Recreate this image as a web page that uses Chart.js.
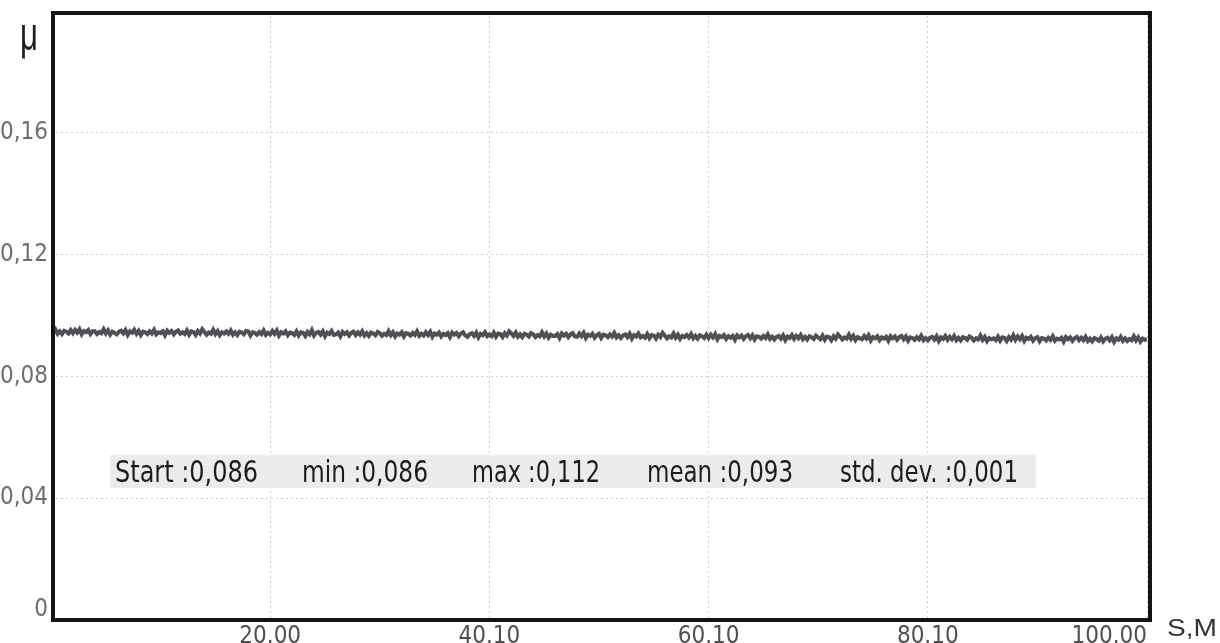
<!DOCTYPE html>
<html>
<head>
<meta charset="utf-8">
<script src="https://cdn.jsdelivr.net/npm/chart.js@4.4.1/dist/chart.umd.min.js"></script>
<style>
  body { margin: 0; background: #fff; }
  #wrap { width: 1220px; height: 643px; }
</style>
</head>
<body>
<div id="wrap"><canvas id="mainChart" width="1220" height="643"></canvas></div>
<script>
// friction coefficient, logged every 0.2 m of sliding distance
const sampleStep = 0.2;
const mu = [
  0.0951, 0.0943, 0.0954, 0.0940, 0.0948, 0.0939, 0.0950, 0.0947, 0.0941, 0.0952,
  0.0942, 0.0953, 0.0944, 0.0955, 0.0938, 0.0949, 0.0945, 0.0952, 0.0939, 0.0948,
  0.0948, 0.0939, 0.0946, 0.0942, 0.0955, 0.0941, 0.0951, 0.0937, 0.0947, 0.0943,
  0.0938, 0.0947, 0.0950, 0.0941, 0.0952, 0.0936, 0.0948, 0.0943, 0.0953, 0.0940,
  0.0950, 0.0936, 0.0947, 0.0945, 0.0939, 0.0948, 0.0941, 0.0953, 0.0938, 0.0945,
  0.0942, 0.0948, 0.0935, 0.0950, 0.0943, 0.0949, 0.0938, 0.0947, 0.0951, 0.0940,
  0.0945, 0.0939, 0.0951, 0.0937, 0.0948, 0.0946, 0.0936, 0.0949, 0.0941, 0.0955,
  0.0946, 0.0937, 0.0944, 0.0940, 0.0953, 0.0939, 0.0949, 0.0935, 0.0945, 0.0941,
  0.0948, 0.0940, 0.0951, 0.0937, 0.0945, 0.0936, 0.0947, 0.0944, 0.0938, 0.0949,
  0.0948, 0.0934, 0.0945, 0.0943, 0.0937, 0.0946, 0.0939, 0.0951, 0.0936, 0.0943,
  0.0938, 0.0949, 0.0940, 0.0951, 0.0934, 0.0945, 0.0941, 0.0948, 0.0935, 0.0944,
  0.0942, 0.0936, 0.0948, 0.0934, 0.0945, 0.0943, 0.0933, 0.0946, 0.0938, 0.0952,
  0.0934, 0.0943, 0.0946, 0.0937, 0.0948, 0.0932, 0.0944, 0.0939, 0.0949, 0.0936,
  0.0938, 0.0944, 0.0931, 0.0946, 0.0939, 0.0945, 0.0934, 0.0943, 0.0947, 0.0936,
  0.0945, 0.0937, 0.0948, 0.0934, 0.0942, 0.0933, 0.0944, 0.0941, 0.0935, 0.0946,
  0.0942, 0.0933, 0.0940, 0.0936, 0.0949, 0.0935, 0.0945, 0.0931, 0.0941, 0.0937,
  0.0945, 0.0931, 0.0942, 0.0940, 0.0934, 0.0943, 0.0936, 0.0948, 0.0933, 0.0940,
  0.0934, 0.0945, 0.0936, 0.0947, 0.0930, 0.0941, 0.0937, 0.0944, 0.0931, 0.0940,
  0.0936, 0.0942, 0.0929, 0.0944, 0.0937, 0.0943, 0.0932, 0.0941, 0.0945, 0.0934,
  0.0930, 0.0939, 0.0942, 0.0933, 0.0944, 0.0928, 0.0940, 0.0935, 0.0945, 0.0932,
  0.0938, 0.0932, 0.0944, 0.0930, 0.0941, 0.0939, 0.0929, 0.0942, 0.0934, 0.0948,
  0.0941, 0.0933, 0.0944, 0.0930, 0.0938, 0.0929, 0.0940, 0.0937, 0.0931, 0.0942,
  0.0938, 0.0929, 0.0936, 0.0932, 0.0945, 0.0931, 0.0941, 0.0927, 0.0937, 0.0933,
  0.0933, 0.0939, 0.0926, 0.0941, 0.0934, 0.0940, 0.0929, 0.0938, 0.0942, 0.0931,
  0.0930, 0.0941, 0.0932, 0.0943, 0.0926, 0.0937, 0.0933, 0.0940, 0.0927, 0.0936,
  0.0940, 0.0926, 0.0937, 0.0935, 0.0929, 0.0938, 0.0931, 0.0943, 0.0928, 0.0935,
  0.0926, 0.0935, 0.0938, 0.0929, 0.0940, 0.0924, 0.0936, 0.0931, 0.0941, 0.0928,
  0.0933, 0.0927, 0.0939, 0.0925, 0.0936, 0.0934, 0.0924, 0.0937, 0.0929, 0.0943,
  0.0934, 0.0925, 0.0932, 0.0928, 0.0941, 0.0927, 0.0937, 0.0923, 0.0933, 0.0929,
  0.0936, 0.0928, 0.0939, 0.0925, 0.0933, 0.0924, 0.0935, 0.0932, 0.0926, 0.0937,
  0.0926, 0.0937, 0.0928, 0.0939, 0.0922, 0.0933, 0.0929, 0.0936, 0.0923, 0.0932,
  0.0927, 0.0933, 0.0920, 0.0935, 0.0928, 0.0934, 0.0923, 0.0932, 0.0936, 0.0925,
  0.0935, 0.0921, 0.0932, 0.0930, 0.0924, 0.0933, 0.0926, 0.0938, 0.0923, 0.0930,
  0.0921, 0.0930, 0.0933, 0.0924, 0.0935, 0.0919, 0.0931, 0.0926, 0.0936, 0.0923,
  0.0933, 0.0925, 0.0936, 0.0922, 0.0930, 0.0921, 0.0932, 0.0929, 0.0923, 0.0934,
  0.0928, 0.0922, 0.0934, 0.0920, 0.0931, 0.0929, 0.0919, 0.0932, 0.0924, 0.0938,
  0.0930, 0.0921, 0.0928, 0.0924, 0.0937, 0.0923, 0.0933, 0.0919, 0.0929, 0.0925,
  0.0922, 0.0933, 0.0924, 0.0935, 0.0918, 0.0929, 0.0925, 0.0932, 0.0919, 0.0928,
  0.0924, 0.0930, 0.0917, 0.0932, 0.0925, 0.0931, 0.0920, 0.0929, 0.0933, 0.0922,
  0.0931, 0.0917, 0.0928, 0.0926, 0.0920, 0.0929, 0.0922, 0.0934, 0.0919, 0.0926,
  0.0918, 0.0927, 0.0930, 0.0921, 0.0932, 0.0916, 0.0928, 0.0923, 0.0933, 0.0920,
  0.0930, 0.0922, 0.0933, 0.0919, 0.0927, 0.0918, 0.0929, 0.0926, 0.0920, 0.0931,
  0.0927, 0.0918, 0.0925, 0.0921, 0.0934, 0.0920, 0.0930, 0.0916, 0.0926, 0.0922,
  0.0925, 0.0919, 0.0931, 0.0917, 0.0928, 0.0926, 0.0916, 0.0929, 0.0921, 0.0935,
  0.0920, 0.0931, 0.0922, 0.0933, 0.0916, 0.0927, 0.0923, 0.0930, 0.0917, 0.0926,
  0.0929, 0.0915, 0.0926, 0.0924, 0.0918, 0.0927, 0.0920, 0.0932, 0.0917, 0.0924,
  0.0921, 0.0927, 0.0914, 0.0929, 0.0922, 0.0928, 0.0917, 0.0926, 0.0930, 0.0919,
  0.0927, 0.0919, 0.0930, 0.0916, 0.0924, 0.0915, 0.0926, 0.0923, 0.0917, 0.0928,
  0.0915, 0.0924, 0.0927, 0.0918, 0.0929, 0.0913, 0.0925, 0.0920, 0.0930, 0.0917,
  0.0925, 0.0916, 0.0923, 0.0919, 0.0932, 0.0918, 0.0928, 0.0914, 0.0924, 0.0920,
  0.0922
];

const yTicks = [0, 0.04, 0.08, 0.12, 0.16];
// tick at 0 carries no label; it lets the last label hug the right edge
const xTicks = [0, 20, 40, 60, 80, 100];
const xTickLabels = ['', '20.00', '40.10', '60.10', '80.10', '100.00'];

const statNames = ['Start', 'min', 'max', 'mean', 'std. dev.'];
const statValues = ['0,086', '0,086', '0,112', '0,093', '0,001'];

const NARROW = '"Liberation Sans Narrow", "DejaVu Sans Condensed", sans-serif';

const points = mu.map((v, i) => ({ x: i * sampleStep, y: v }));

// text drawn squeezed into a given width, like the tester's own font
function fitText(ctx, text, x, y, w) {
    let m = ctx.measureText(text).width;
    ctx.save();
    ctx.translate(x, y);
    ctx.scale(w / m, 1);
    ctx.fillText(text, 0, 0);
    ctx.restore();
}

const decor = {
    id: 'decor',
    afterDatasetsDraw(chart) {
        const ctx = chart.ctx, a = chart.chartArea;
        ctx.save();

        // stats strip
        ctx.fillStyle = '#ececec';
        ctx.fillRect(110, 455, 926, 33);
        ctx.fillStyle = '#1c1c1c';
        ctx.font = '30px ' + NARROW;
        ctx.textBaseline = 'alphabetic';
        ctx.textAlign = 'left';
        const sx = [115, 302, 472, 647, 840];
        const sw = [143, 126, 128, 146, 178];
        statNames.forEach((n, i) => fitText(ctx, n + ' :' + statValues[i], sx[i], 482, sw[i]));

        // frame
        ctx.strokeStyle = '#141414';
        ctx.lineWidth = 4;
        ctx.strokeRect(a.left + 2, a.top + 2, a.right - a.left + 1, a.bottom - a.top - 2);

        // axis names
        ctx.fillStyle = '#1e1e1e';
        ctx.font = '46px "Liberation Sans", sans-serif';
        fitText(ctx, 'μ', 20, 50, 18);
        ctx.fillStyle = '#333';
        ctx.font = '24px "Liberation Sans", sans-serif';
        fitText(ctx, 'S,M', 1167, 636, 50);

        ctx.restore();
    }
};

const chart = new Chart(document.getElementById('mainChart').getContext('2d'), {
    type: 'line',
    data: {
        datasets: [{
            data: points,
            borderColor: '#505054',
            borderWidth: 4,
            pointRadius: 0,
            tension: 0,
            fill: false
        }]
    },
    options: {
        responsive: false,
        animation: false,
        layout: { padding: { top: 11, right: 73, left: 0, bottom: 0 } },
        plugins: { legend: { display: false }, tooltip: { enabled: false } },
        scales: {
            x: {
                type: 'linear',
                min: 0, max: 100,
                afterBuildTicks: s => { s.ticks = xTicks.map(v => ({ value: v })); },
                afterFit: s => { s.height = 23; s.paddingLeft = 0; s.paddingRight = 0; },
                grid: { color: '#cdcdcd', lineWidth: 1, drawTicks: false },
                border: { display: false, dash: [2, 3] },
                ticks: {
                    padding: 2,
                    align: 'inner',
                    maxRotation: 0,
                    color: '#505050',
                    font: { family: NARROW, size: 24 },
                    callback: v => xTickLabels[xTicks.indexOf(v)]
                }
            },
            y: {
                min: 0, max: 0.2,
                afterBuildTicks: s => { s.ticks = yTicks.map(v => ({ value: v })); },
                afterFit: s => { s.width = 51; s.paddingTop = 0; s.paddingBottom = 0; },
                grid: { color: '#cdcdcd', lineWidth: 1, drawTicks: false },
                border: { display: false, dash: [2, 3] },
                ticks: {
                    padding: 3,
                    color: '#6e6e6e',
                    // the zero sits a little above the bottom edge
                    font: c => ({ family: NARROW, size: 24, lineHeight: c.tick && c.tick.value === 0 ? 0.83 : 1.2 }),
                    callback: v => v === 0 ? ['0', ''] : v.toFixed(2).replace('.', ',')
                }
            }
        }
    },
    plugins: [decor]
});
</script>
</body>
</html>
